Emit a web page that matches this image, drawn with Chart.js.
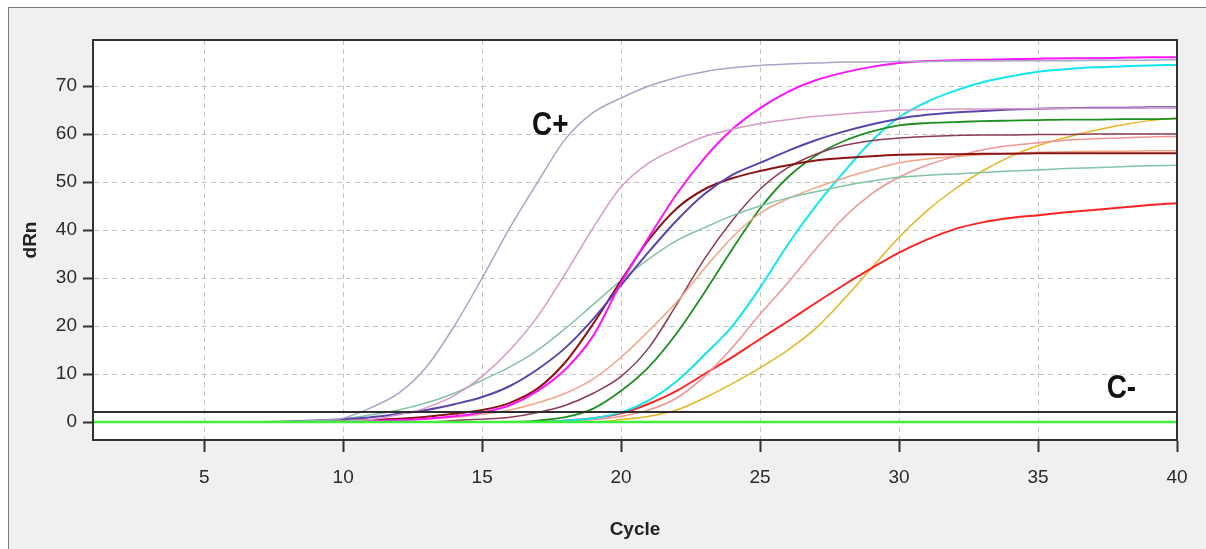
<!DOCTYPE html>
<html lang="en">

<head>
    <meta charset="UTF-8">
    <title>dRn vs Cycle</title>
    <script src="https://cdn.jsdelivr.net/npm/chart.js"></script>
    <style>
        body { margin: 0; background: #ffffff; }
        .frame {
            position: absolute; left: 8px; top: 7px; right: 0; bottom: 0;
            background: #f0f0f0;
            border-left: 1px solid #7a7a7a;
            border-top: 1px solid #7a7a7a;
        }
        #grafico { position: absolute; left: 0; top: 0; }
    </style>
</head>

<body>
    <div class="frame"></div>
    <canvas id="grafico" width="1206" height="549"></canvas>

<script>
    // ciclos e ticks
    const ciclos = [1, 2, 3, 4, 5, 6, 7, 8, 9, 10, 11, 12, 13, 14, 15, 16, 17, 18, 19, 20,
        21, 22, 23, 24, 25, 26, 27, 28, 29, 30, 31, 32, 33, 34, 35, 36, 37, 38, 39, 40];
    const ticksX = [5, 10, 15, 20, 25, 30, 35, 40];
    const ticksY = [0, 10, 20, 30, 40, 50, 60, 70];
    const limiar = 2.1;

    // curvas (dRn por ciclo)
    const cPositivo = [0, 0, 0, 0, 0, 0, 0, 0.1, 0.3, 0.8, 3, 6, 11.5, 20, 30, 40.5, 50, 59, 64.5, 67.5,
        70, 71.8, 73, 73.8, 74.3, 74.6, 74.8, 75, 75, 75.1, 75.1, 75.2, 75.2, 75.3, 75.3, 75.3, 75.4, 75.4, 75.4, 75.5];
    const orquidea = [0, 0, 0, 0, 0, 0, 0, 0, 0.1, 0.2, 0.5, 1.5, 3, 5.5, 9.5, 15, 22, 31, 40.5, 49,
        54, 57, 59.5, 61, 62.2, 63, 63.7, 64.2, 64.6, 65, 65.1, 65.2, 65.2, 65.3, 65.3, 65.4, 65.4, 65.4, 65.5, 65.5];
    const magenta = [0, 0, 0, 0, 0, 0, 0, 0, 0, 0, 0.2, 0.4, 0.7, 1.2, 2, 3.5, 6.5, 11, 18, 29,
        38.5, 47.5, 55, 61, 65.4, 68.8, 71.2, 72.8, 74, 74.8, 75.2, 75.4, 75.5, 75.6, 75.7, 75.8, 75.8, 75.9, 76, 76];
    const roxo = [0, 0, 0, 0, 0, 0, 0, 0.1, 0.3, 0.6, 1, 1.7, 2.5, 3.7, 5.2, 7.5, 11, 15.5, 21.5, 28.5,
        35.5, 42, 47.5, 51.5, 54, 56.5, 58.7, 60.5, 62, 63.2, 64, 64.5, 64.8, 65.1, 65.3, 65.4, 65.5, 65.5, 65.6, 65.6];
    const bordo = [0, 0, 0, 0, 0, 0, 0, 0, 0.1, 0.2, 0.4, 0.7, 1.1, 1.7, 2.5, 4, 7, 12.5, 20.5, 29.5,
        38, 44.5, 48.5, 50.8, 52.3, 53.5, 54.5, 55, 55.4, 55.7, 55.8, 55.8, 55.9, 55.9, 56, 56, 56, 56, 56, 56];
    const verdeAgua = [0, 0, 0, 0, 0, 0, 0, 0, 0.2, 0.6, 1.5, 2.5, 4, 6, 8.7, 11.5, 15, 19.5, 24.5, 29.5,
        34, 37.8, 40.5, 43, 45, 46.7, 48, 49.2, 50.2, 51, 51.4, 51.7, 52, 52.3, 52.5, 52.8, 53, 53.2, 53.4, 53.5];
    const salmao = [0, 0, 0, 0, 0, 0, 0, 0, 0, 0, 0, 0.3, 0.6, 1, 1.6, 2.5, 4, 6, 9, 13.5,
        19, 25, 32, 38.5, 43.5, 46.5, 48.8, 50.8, 52.5, 54, 54.8, 55.3, 55.7, 56, 56.2, 56.3, 56.4, 56.4, 56.5, 56.5];
    const malva = [0, 0, 0, 0, 0, 0, 0, 0, 0, 0, 0, 0, 0, 0.3, 0.6, 1, 2, 3.5, 6, 9.5,
        15.5, 24.5, 34, 42, 48.5, 53, 55.8, 57.6, 58.6, 59.2, 59.5, 59.7, 59.8, 59.8, 59.9, 59.9, 60, 60, 60, 60];
    const verde = [0, 0, 0, 0, 0, 0, 0, 0, 0, 0, 0, 0, 0, 0, 0, 0, 0.3, 1, 2.8, 6.5,
        11.5, 18.5, 27, 36, 44.5, 51, 55.5, 58.5, 60.5, 61.8, 62.3, 62.5, 62.7, 62.8, 62.9, 63, 63, 63.1, 63.1, 63.2];
    const ciano = [0, 0, 0, 0, 0, 0, 0, 0, 0, 0, 0, 0, 0, 0, 0, 0, 0, 0.3, 0.8, 2,
        4.5, 8.5, 14, 20, 28, 37, 45, 52, 58.5, 63.5, 66.7, 69, 70.8, 72, 73, 73.5, 73.9, 74.1, 74.3, 74.4];
    const rosa = [0, 0, 0, 0, 0, 0, 0, 0, 0, 0, 0, 0, 0, 0, 0, 0, 0, 0, 0.5, 1.2,
        2.5, 5, 9.5, 15.5, 22.5, 29, 36, 42.5, 47.5, 51, 53.5, 55.3, 56.7, 57.6, 58.2, 58.7, 59, 59.2, 59.4, 59.5];
    const vermelho = [0, 0, 0, 0, 0, 0, 0, 0, 0, 0, 0, 0, 0, 0, 0, 0, 0, 0.3, 0.8, 1.8,
        3.8, 6.5, 10, 13.5, 17.3, 21, 24.8, 28.5, 32, 35.3, 38, 40.2, 41.6, 42.5, 43.1, 43.7, 44.2, 44.7, 45.2, 45.6];
    const dourado = [0, 0, 0, 0, 0, 0, 0, 0, 0, 0, 0, 0, 0, 0, 0, 0, 0, 0, 0, 0.5,
        1.2, 2.5, 5, 8, 11.3, 15, 19.5, 25.5, 32, 38.5, 44, 48.5, 52.3, 55.3, 57.6, 59.3, 60.7, 61.9, 62.8, 63.4];
    const cNegativo = [0, 0, 0, 0, 0, 0, 0, 0, 0, 0, 0, 0, 0, 0, 0, 0, 0, 0, 0, 0,
        0, 0, 0, 0, 0, 0, 0, 0, 0, 0, 0, 0, 0, 0, 0, 0, 0, 0, 0, 0];

    function pontos(valores) {
        return ciclos.map((c, i) => ({ x: c, y: valores[i] }));
    }

    function curva(nome, valores, cor, largura) {
        return {
            label: nome,
            data: pontos(valores),
            borderColor: cor,
            borderWidth: largura,
            pointRadius: 0,
            cubicInterpolationMode: 'monotone',
            fill: false
        };
    }

    const fonte = "'Liberation Sans Narrow', 'Liberation Sans', Arial, sans-serif";

    // texto estreito (C+ / C-)
    function textoEstreito(ctx, texto, px, py) {
        ctx.save();
        ctx.translate(px, py);
        ctx.scale(0.82, 1);
        ctx.fillText(texto, 0, 0);
        ctx.restore();
    }

    // fundo branco da area do grafico + borda + textos C+ / C-
    const moldura = {
        id: 'moldura',
        beforeDraw(chart) {
            const a = chart.chartArea;
            const ctx = chart.ctx;
            ctx.save();
            ctx.fillStyle = '#ffffff';
            ctx.fillRect(a.left, a.top, a.right - a.left, a.bottom - a.top);
            ctx.restore();
        },
        afterDraw(chart) {
            const a = chart.chartArea;
            const ctx = chart.ctx;
            const x = chart.scales.x;
            const y = chart.scales.y;
            ctx.save();
            ctx.strokeStyle = '#333333';
            ctx.lineWidth = 2;
            ctx.strokeRect(a.left, a.top, a.right - a.left, a.bottom - a.top);
            ctx.fillStyle = '#111111';
            ctx.font = 'bold 34px ' + fonte;
            ctx.textAlign = 'center';
            ctx.textBaseline = 'middle';
            textoEstreito(ctx, 'C+', x.getPixelForValue(17.45), y.getPixelForValue(61.8));
            textoEstreito(ctx, 'C-', x.getPixelForValue(38.0), y.getPixelForValue(6.9));
            ctx.restore();
        }
    };

    const ctx = document.getElementById('grafico');
    new Chart(ctx, {
        type: 'line',
        data: {
            datasets: [
                curva('C-', cNegativo, '#3cf03c', 2.5),
                {
                    label: 'Limiar',
                    data: [{ x: 1, y: limiar }, { x: 40, y: limiar }],
                    borderColor: '#2e2e2e',
                    borderWidth: 2,
                    pointRadius: 0
                },
                curva('C+', cPositivo, '#a4a8c8', 1.5),
                curva('Orquidea', orquidea, '#d898cc', 1.5),
                curva('Magenta', magenta, '#ff14ff', 2),
                curva('Roxo', roxo, '#5c44aa', 2),
                curva('Bordo', bordo, '#8a1414', 2),
                curva('Verde agua', verdeAgua, '#82c4a6', 1.5),
                curva('Salmao', salmao, '#f2a486', 1.5),
                curva('Malva', malva, '#8c3c56', 1.5),
                curva('Verde', verde, '#1f8f1f', 1.8),
                curva('Ciano', ciano, '#12e6f0', 2),
                curva('Rosa', rosa, '#f09494', 1.5),
                curva('Vermelho', vermelho, '#ff2424', 2),
                curva('Dourado', dourado, '#e6b624', 1.5)
            ]
        },
        options: {
            responsive: false,
            animation: false,
            layout: { padding: { left: 0, top: 40, right: 29, bottom: 0 } },
            plugins: {
                legend: { display: false },
                tooltip: { enabled: false }
            },
            scales: {
                x: {
                    type: 'linear',
                    min: 1,
                    max: 40,
                    afterBuildTicks: (s) => { s.ticks = ticksX.map(v => ({ value: v })); },
                    afterFit: (s) => { s.height = 109; },
                    grid: {
                        color: '#c4c4c4',
                        lineWidth: 1,
                        tickLength: 12,
                        tickColor: '#333333',
                        tickWidth: 2
                    },
                    border: { display: true, color: '#333333', width: 2, dash: [5, 4] },
                    ticks: {
                        color: '#2a2a2a',
                        padding: 14,
                        maxRotation: 0,
                        font: { family: fonte, size: 19 }
                    },
                    title: {
                        display: true,
                        text: 'Cycle',
                        color: '#222222',
                        font: { family: fonte, size: 19, weight: 'bold' },
                        padding: { top: 0, bottom: 8 }
                    }
                },
                y: {
                    type: 'linear',
                    min: -3.75,
                    max: 79.6,
                    afterBuildTicks: (s) => { s.ticks = ticksY.map(v => ({ value: v })); },
                    afterFit: (s) => { s.width = 93; },
                    grid: {
                        color: '#c4c4c4',
                        lineWidth: 1,
                        tickLength: 10,
                        tickColor: '#333333',
                        tickWidth: 2
                    },
                    border: { display: true, color: '#333333', width: 2, dash: [5, 4] },
                    ticks: {
                        color: '#2a2a2a',
                        padding: 6,
                        font: { family: fonte, size: 19 }
                    },
                    title: {
                        display: true,
                        text: 'dRn',
                        color: '#222222',
                        font: { family: fonte, size: 19, weight: 'bold' },
                        padding: { top: 19, bottom: 0 }
                    }
                }
            }
        },
        plugins: [moldura]
    });
</script>
</body>

</html>
